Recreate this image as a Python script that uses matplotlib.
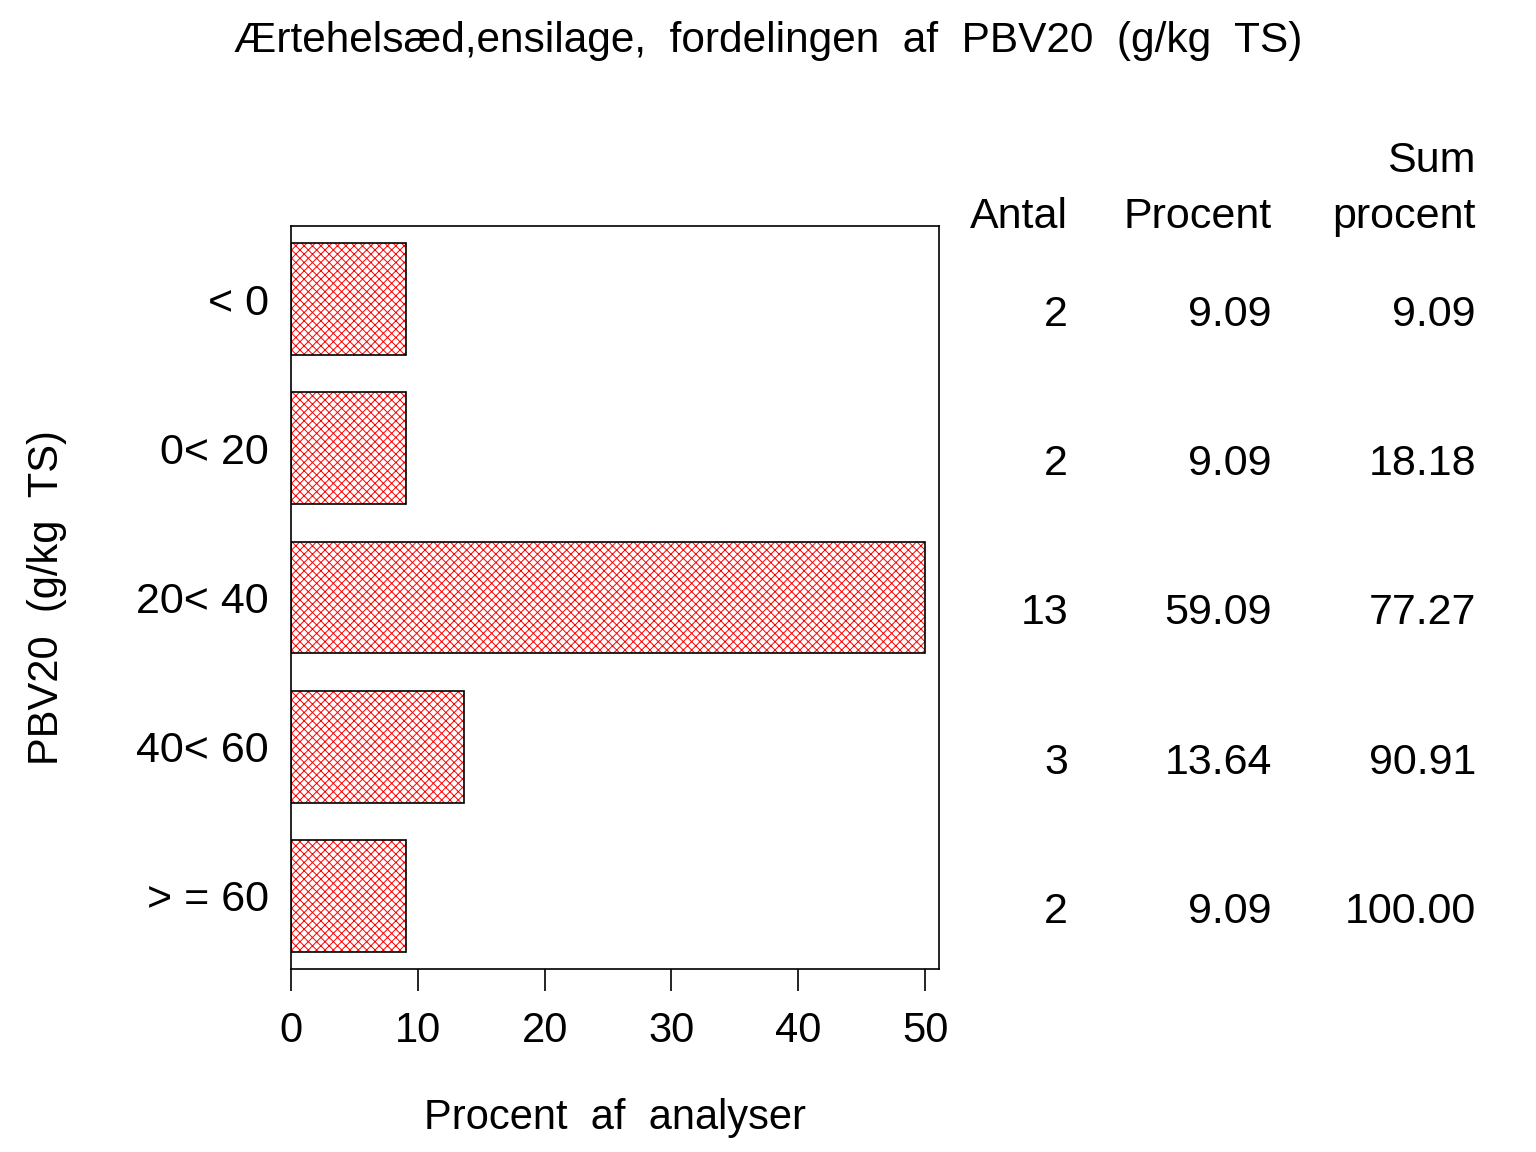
import numpy as np
import matplotlib
matplotlib.use("Agg")
import matplotlib.pyplot as plt

plt.rcParams['font.family'] = ['Liberation Sans', 'DejaVu Sans']
plt.rcParams['hatch.linewidth'] = 0.7

categories = ["< 0", "0< 20", "20< 40", "40< 60", "> = 60"]
antal = [2, 2, 13, 3, 2]
procent = [9.09, 9.09, 59.09, 13.64, 9.09]
sum_procent = [9.09, 18.18, 77.27, 90.91, 100.00]
xticks = [0, 10, 20, 30, 40, 50]
axis_max = 50

fig = plt.figure(figsize=(15.36, 11.52), dpi=100)
ax = fig.add_axes([291/1536, 1-969/1152, (939-291)/1536, (969-226)/1152])

y = np.arange(len(categories))
vals = np.minimum(procent, axis_max)
ax.barh(y, vals, height=0.75, color='white', edgecolor='red', hatch='xxxx', linewidth=0)
ax.barh(y, vals, height=0.75, fill=False, edgecolor='black', linewidth=1.2)

ax.set_xlim(0, 51.1)
ax.set_ylim(len(categories) - 0.51, -0.49)
ax.set_xticks(xticks)
ax.set_xticklabels([str(t) for t in xticks], fontsize=30)
ax.set_yticks(y)
ax.set_yticklabels(categories, fontsize=31)
ax.tick_params(axis='y', length=0, pad=16)
ax.tick_params(axis='x', length=16, width=1.2, pad=14, direction='out')
for s in ax.spines.values():
    s.set_linewidth(1.2)

ax.set_xlabel("Procent  af  analyser", fontsize=30, labelpad=34)
ax.set_ylabel("PBV20  (g/kg  TS)", fontsize=30, labelpad=50)

fig.text(0.5, 1-41/1152, "Ærtehelsæd,ensilage,  fordelingen  af  PBV20  (g/kg  TS)",
         ha='center', va='center', fontsize=30.5)

# table
col_x = [1068/1536, 1272/1536, 1476/1536]
fig.text(col_x[0], 1-228/1152, "Antal", ha='right', va='baseline', fontsize=31)
fig.text(col_x[1], 1-228/1152, "Procent", ha='right', va='baseline', fontsize=31)
fig.text(col_x[2], 1-228/1152, "procent", ha='right', va='baseline', fontsize=31)
fig.text(col_x[2], 1-172/1152, "Sum", ha='right', va='baseline', fontsize=31)

for i in range(len(categories)):
    yd = ax.transData.transform((0, y[i]))[1]
    yf = fig.transFigure.inverted().transform((0, yd))[1] - 16/1152
    fig.text(col_x[0], yf, f"{antal[i]}", ha='right', va='center', fontsize=31)
    fig.text(col_x[1], yf, f"{procent[i]:.2f}", ha='right', va='center', fontsize=31)
    fig.text(col_x[2], yf, f"{sum_procent[i]:.2f}", ha='right', va='center', fontsize=31)

fig.savefig("out.png", dpi=100)
